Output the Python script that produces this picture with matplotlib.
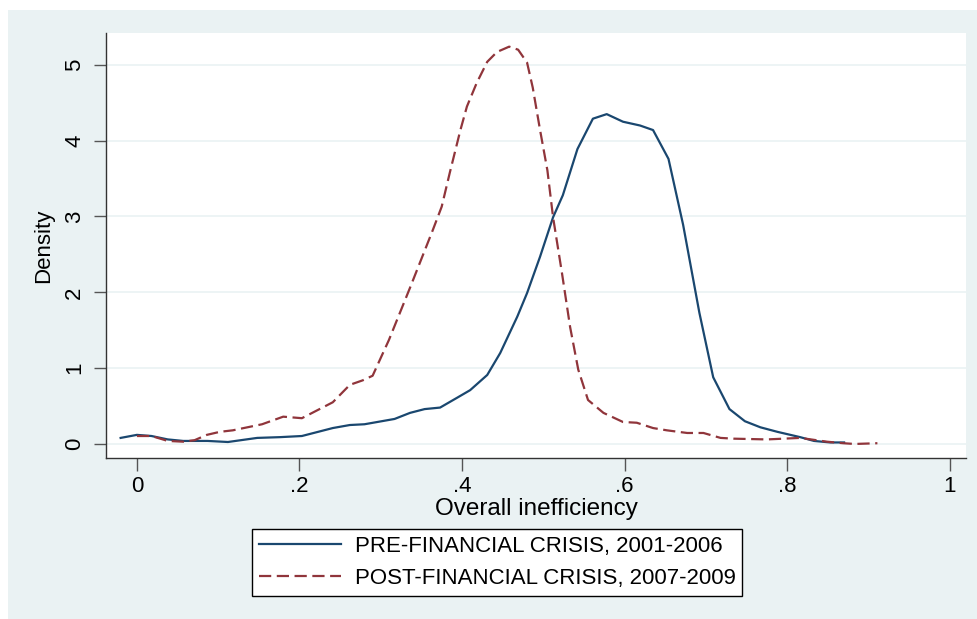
import numpy as np
import matplotlib
matplotlib.use("Agg")
import matplotlib.pyplot as plt
from matplotlib.patches import Rectangle

plt.rcParams["font.family"] = ["Liberation Sans", "DejaVu Sans"]

# kernel density, pre crisis
pre_x = [-0.020, 0.0, 0.018, 0.038, 0.057, 0.087, 0.112, 0.148, 0.176, 0.203,
         0.241, 0.262, 0.280, 0.317, 0.336, 0.354, 0.373, 0.394, 0.410, 0.431,
         0.447, 0.468, 0.480, 0.496, 0.512, 0.524, 0.542, 0.561, 0.578, 0.598,
         0.619, 0.635, 0.654, 0.672, 0.692, 0.709, 0.729, 0.748, 0.767, 0.788,
         0.816, 0.833, 0.853, 0.870]
pre_y = [0.08, 0.12, 0.105, 0.06, 0.04, 0.04, 0.026, 0.08, 0.09, 0.105,
         0.21, 0.25, 0.26, 0.33, 0.41, 0.46, 0.48, 0.61, 0.71, 0.91,
         1.20, 1.68, 1.99, 2.47, 2.99, 3.28, 3.89, 4.29, 4.35, 4.25,
         4.20, 4.14, 3.76, 2.89, 1.73, 0.88, 0.46, 0.30, 0.22, 0.16,
         0.09, 0.04, 0.02, 0.02]

# kernel density, post crisis
post_x = [0.0, 0.018, 0.038, 0.057, 0.071, 0.086, 0.102, 0.118, 0.154, 0.180,
          0.203, 0.241, 0.262, 0.278, 0.290, 0.310, 0.336, 0.364, 0.375, 0.385,
          0.398, 0.406, 0.418, 0.431, 0.443, 0.458, 0.469, 0.480, 0.487, 0.496,
          0.505, 0.512, 0.523, 0.533, 0.543, 0.555, 0.574, 0.598, 0.615, 0.635,
          0.652, 0.677, 0.697, 0.718, 0.734, 0.775, 0.816, 0.849, 0.869, 0.883,
          0.911]
post_y = [0.105, 0.105, 0.04, 0.03, 0.05, 0.12, 0.16, 0.18, 0.26, 0.36,
          0.34, 0.55, 0.78, 0.84, 0.90, 1.37, 2.06, 2.82, 3.13, 3.58,
          4.14, 4.45, 4.76, 5.04, 5.17, 5.24, 5.20, 5.03, 4.70, 4.14,
          3.61, 2.99, 2.25, 1.54, 0.98, 0.58, 0.41, 0.29, 0.28, 0.21,
          0.18, 0.145, 0.145, 0.08, 0.07, 0.06, 0.08, 0.03, 0.01, 0.0,
          0.01]

x_ticks = [0, 0.2, 0.4, 0.6, 0.8, 1.0]
x_ticklabels = ["0", ".2", ".4", ".6", ".8", "1"]
y_ticks = [0, 1, 2, 3, 4, 5]

bg = "#EAF2F3"
navy = "#1A476F"
maroon = "#90353B"
fs = 16

fig = plt.figure(figsize=(9.77, 6.19), dpi=100)
fig.patches.append(Rectangle((8 / 977, 0), 1 - 8 / 977, 1 - 10 / 619,
                             transform=fig.transFigure, facecolor=bg,
                             edgecolor="none", zorder=-10))

ax = fig.add_axes([106 / 977, 1 - 458 / 619, 860 / 977, 425 / 619])
ax.set_facecolor("white")

ax.plot(pre_x, pre_y, color=navy, lw=1.6, label="PRE-FINANCIAL CRISIS, 2001-2006")
ax.plot(post_x, post_y, color=maroon, lw=1.6, dashes=(5.5, 2.5),
        label="POST-FINANCIAL CRISIS, 2007-2009")

ax.set_xlim(-0.038, 1.020)
ax.set_ylim(-0.185, 5.42)
ax.set_xticks(x_ticks)
ax.set_xticklabels(x_ticklabels)
ax.set_yticks(y_ticks)
ax.yaxis.grid(True, color=bg, lw=1.2)
ax.set_axisbelow(True)

for s in ["top", "right"]:
    ax.spines[s].set_visible(False)
for s in ["left", "bottom"]:
    ax.spines[s].set_color("#333333")
    ax.spines[s].set_linewidth(1.0)

ax.tick_params(axis="both", labelsize=fs, length=9, width=1, color="#555555")
ax.tick_params(axis="y", pad=6)
ax.tick_params(axis="x", pad=4)
plt.setp(ax.get_yticklabels(), rotation=90, va="center")
ax.set_xlabel("Overall inefficiency", fontsize=17.5, labelpad=1)
ax.set_ylabel("Density", fontsize=fs, labelpad=7)

leg = fig.legend(loc="center", bbox_to_anchor=(0.509, 0.091), fontsize=fs,
                 handlelength=3.7, handletextpad=0.6, labelspacing=0.5,
                 fancybox=False, edgecolor="black", framealpha=1,
                 borderpad=0.3)
leg.get_frame().set_linewidth(1.0)

fig.savefig("out.png", dpi=100)
